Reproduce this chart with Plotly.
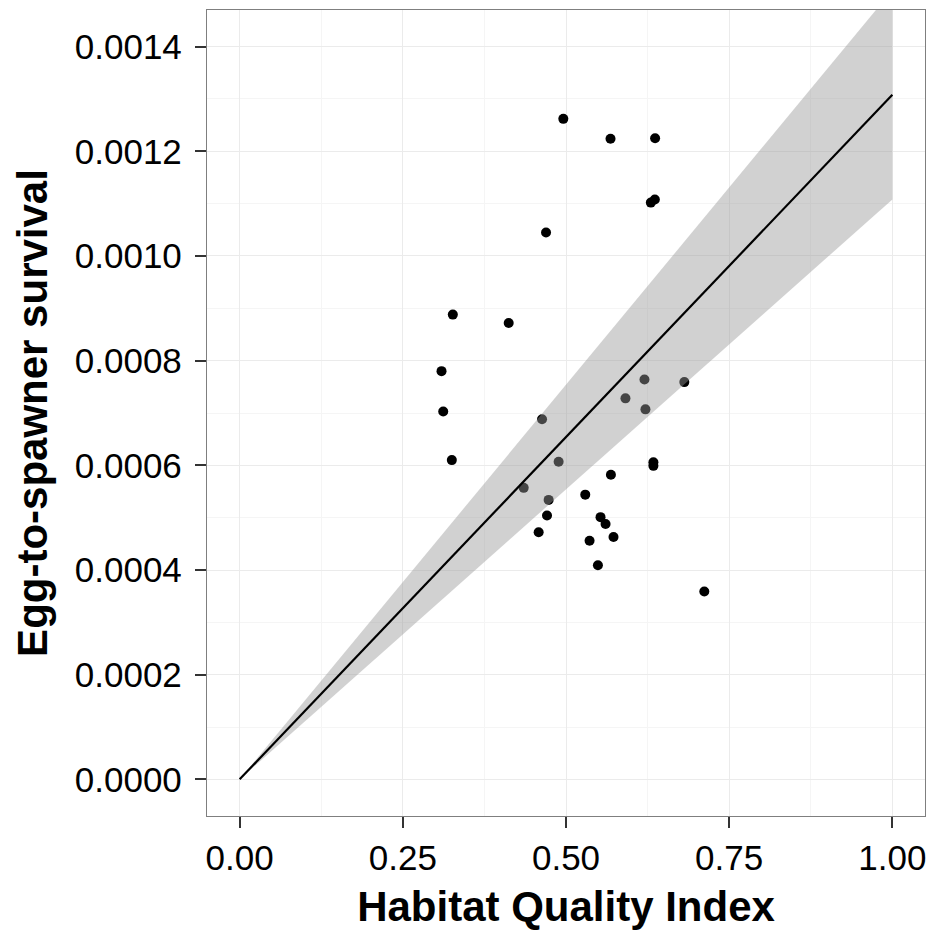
import plotly.graph_objects as go

# Habitat quality index vs egg-to-spawner survival, one point per observation
habitat_quality = [
    0.4959, 0.5682, 0.6365, 0.6361, 0.6300, 0.4694,
    0.3266, 0.4122, 0.3093, 0.3119, 0.3251,
    0.4633, 0.4887, 0.4352, 0.4734, 0.4709, 0.4581,
    0.5295, 0.5688, 0.5529, 0.5606, 0.5361, 0.5728, 0.5489,
    0.5911, 0.6202, 0.6217, 0.6813, 0.6339, 0.6339, 0.7119,
]
survival = [
    0.001262, 0.001224, 0.001225, 0.001108, 0.001102, 0.001045,
    0.000888, 0.000872, 0.000780, 0.000703, 0.000610,
    0.000688, 0.000607, 0.000557, 0.000534, 0.000504, 0.000472,
    0.000544, 0.000582, 0.000501, 0.000488, 0.000456, 0.000463, 0.000409,
    0.000728, 0.000764, 0.000707, 0.000759, 0.000606, 0.000599, 0.000359,
]

# Linear fit through the origin and its confidence band
fit_x = [0.0, 1.0]
fit_y = [0.0, 0.001308]
ci_lower = [0.0, 0.001108]
ci_upper = [0.0, 0.001508]

x_ticks = [0.0, 0.25, 0.5, 0.75, 1.0]
y_ticks = [0.0, 0.0002, 0.0004, 0.0006, 0.0008, 0.0010, 0.0012, 0.0014]

FONT = "Liberation Sans, Arial, Helvetica, sans-serif"

fig = go.Figure()

fig.add_trace(go.Scatter(
    x=habitat_quality, y=survival, mode="markers",
    marker=dict(color="black", size=10, line=dict(width=0)),
    showlegend=False, hoverinfo="x+y",
))

band_x = fit_x + fit_x[::-1]
band_y = ci_lower + ci_upper[::-1]
fig.add_trace(go.Scatter(
    x=band_x, y=band_y, mode="lines", fill="toself",
    fillcolor="rgba(153,153,153,0.45)", line=dict(width=0),
    showlegend=False, hoverinfo="skip",
))

fig.add_trace(go.Scatter(
    x=fit_x, y=fit_y, mode="lines",
    line=dict(color="black", width=2.2),
    showlegend=False,
))

axis_common = dict(
    showline=True, mirror=True, linecolor="#7f7f7f", linewidth=1.3,
    showgrid=True, gridcolor="#ebebeb", gridwidth=1.4,
    zeroline=False,
    ticks="outside", ticklen=11, tickwidth=2, tickcolor="#333333",
    tickfont=dict(family=FONT, size=35, color="black"),
)

fig.update_layout(
    width=931, height=930,
    margin=dict(l=207, r=6, t=10, b=114),
    paper_bgcolor="white", plot_bgcolor="white",
    xaxis=dict(
        **axis_common,
        range=[-0.05, 1.05],
        tickvals=x_ticks, tickformat=".2f",
        minor=dict(tick0=0.125, dtick=0.25, showgrid=True,
                   gridcolor="#f5f5f5", gridwidth=1.2, ticks=""),
        title=dict(text="<b>Habitat Quality Index</b>", standoff=18,
                   font=dict(family=FONT, size=42, color="black")),
    ),
    yaxis=dict(
        **axis_common,
        range=[-0.00007, 0.00147],
        tickvals=y_ticks, tickformat=".4f",
        minor=dict(tick0=0.0001, dtick=0.0002, showgrid=True,
                   gridcolor="#f5f5f5", gridwidth=1.2, ticks=""),
        ticklabelstandoff=6,
        title=dict(text="<b>Egg-to-spawner survival</b>", standoff=14,
                   font=dict(family=FONT, size=42, color="black")),
    ),
)

fig.write_html("out.html")
